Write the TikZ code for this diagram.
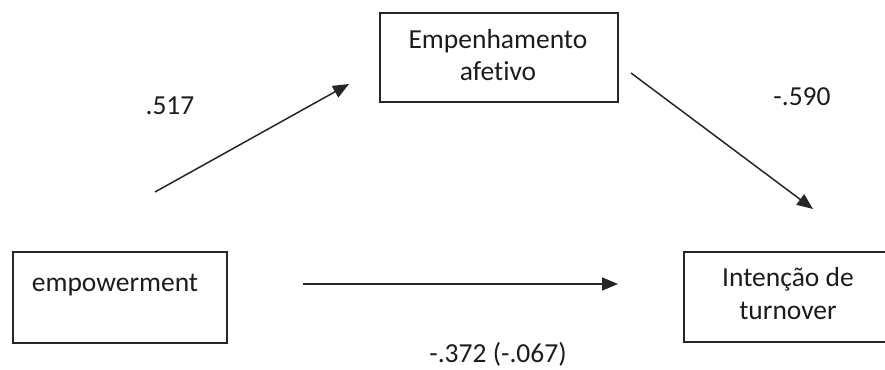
\documentclass[tikz,border=0pt]{standalone}
\usepackage{fontspec}
\setmainfont[Ligatures=NoCommon]{Carlito}
\usetikzlibrary{arrows.meta}
\definecolor{ink}{HTML}{1C1C1C}
\begin{document}
\begin{tikzpicture}[x=1pt,y=-1pt,
  box/.style={draw=black!85,line width=1.6pt,rectangle,inner sep=0pt,anchor=north west},
  lbl/.style={text=ink,inner sep=0pt,anchor=base,font=\fontsize{27.5}{32.5}\selectfont},
  path/.style={draw=black!85,line width=1.5pt,-{Triangle[length=16pt,width=13pt]}}]
  \useasboundingbox (0,0) rectangle (885,369);
  \clip (0,0) rectangle (885,369);
  % boxes
  \node[box,minimum width=238pt,minimum height=89pt] (emp) at (379,12) {};
  \node[box,minimum width=214pt,minimum height=91pt] (pow) at (12,251) {};
  \node[box,minimum width=210pt,minimum height=90pt] (int) at (683,251) {};
  % box captions (base = baseline of the last line)
  \node[lbl,align=center] (empT) at (498,81) {Empenhamento\\afetivo};
  \node[lbl] (powT) at (115,291) {empowerment};
  \node[lbl,align=center] (intT) at (788,319) {Intenção de\\turnover};
  % path ends
  \coordinate (a1) at (155,192);
  \coordinate (a2) at (349,84);
  \coordinate (b1) at (631,73);
  \coordinate (b2) at (813,209);
  \coordinate (c1) at (303,284);
  \coordinate (c2) at (618,284);
  \draw[path] (a1) -- (a2);
  \draw[path] (b1) -- (b2);
  \draw[path] (c1) -- (c2);
  % coefficients
  \node[lbl] (ka) at (170,114) {.517};
  \node[lbl] (kb) at (802,105) {-.590};
  \node[lbl] (kc) at (498,362) {-.372 (-.067)};
\end{tikzpicture}
\end{document}
